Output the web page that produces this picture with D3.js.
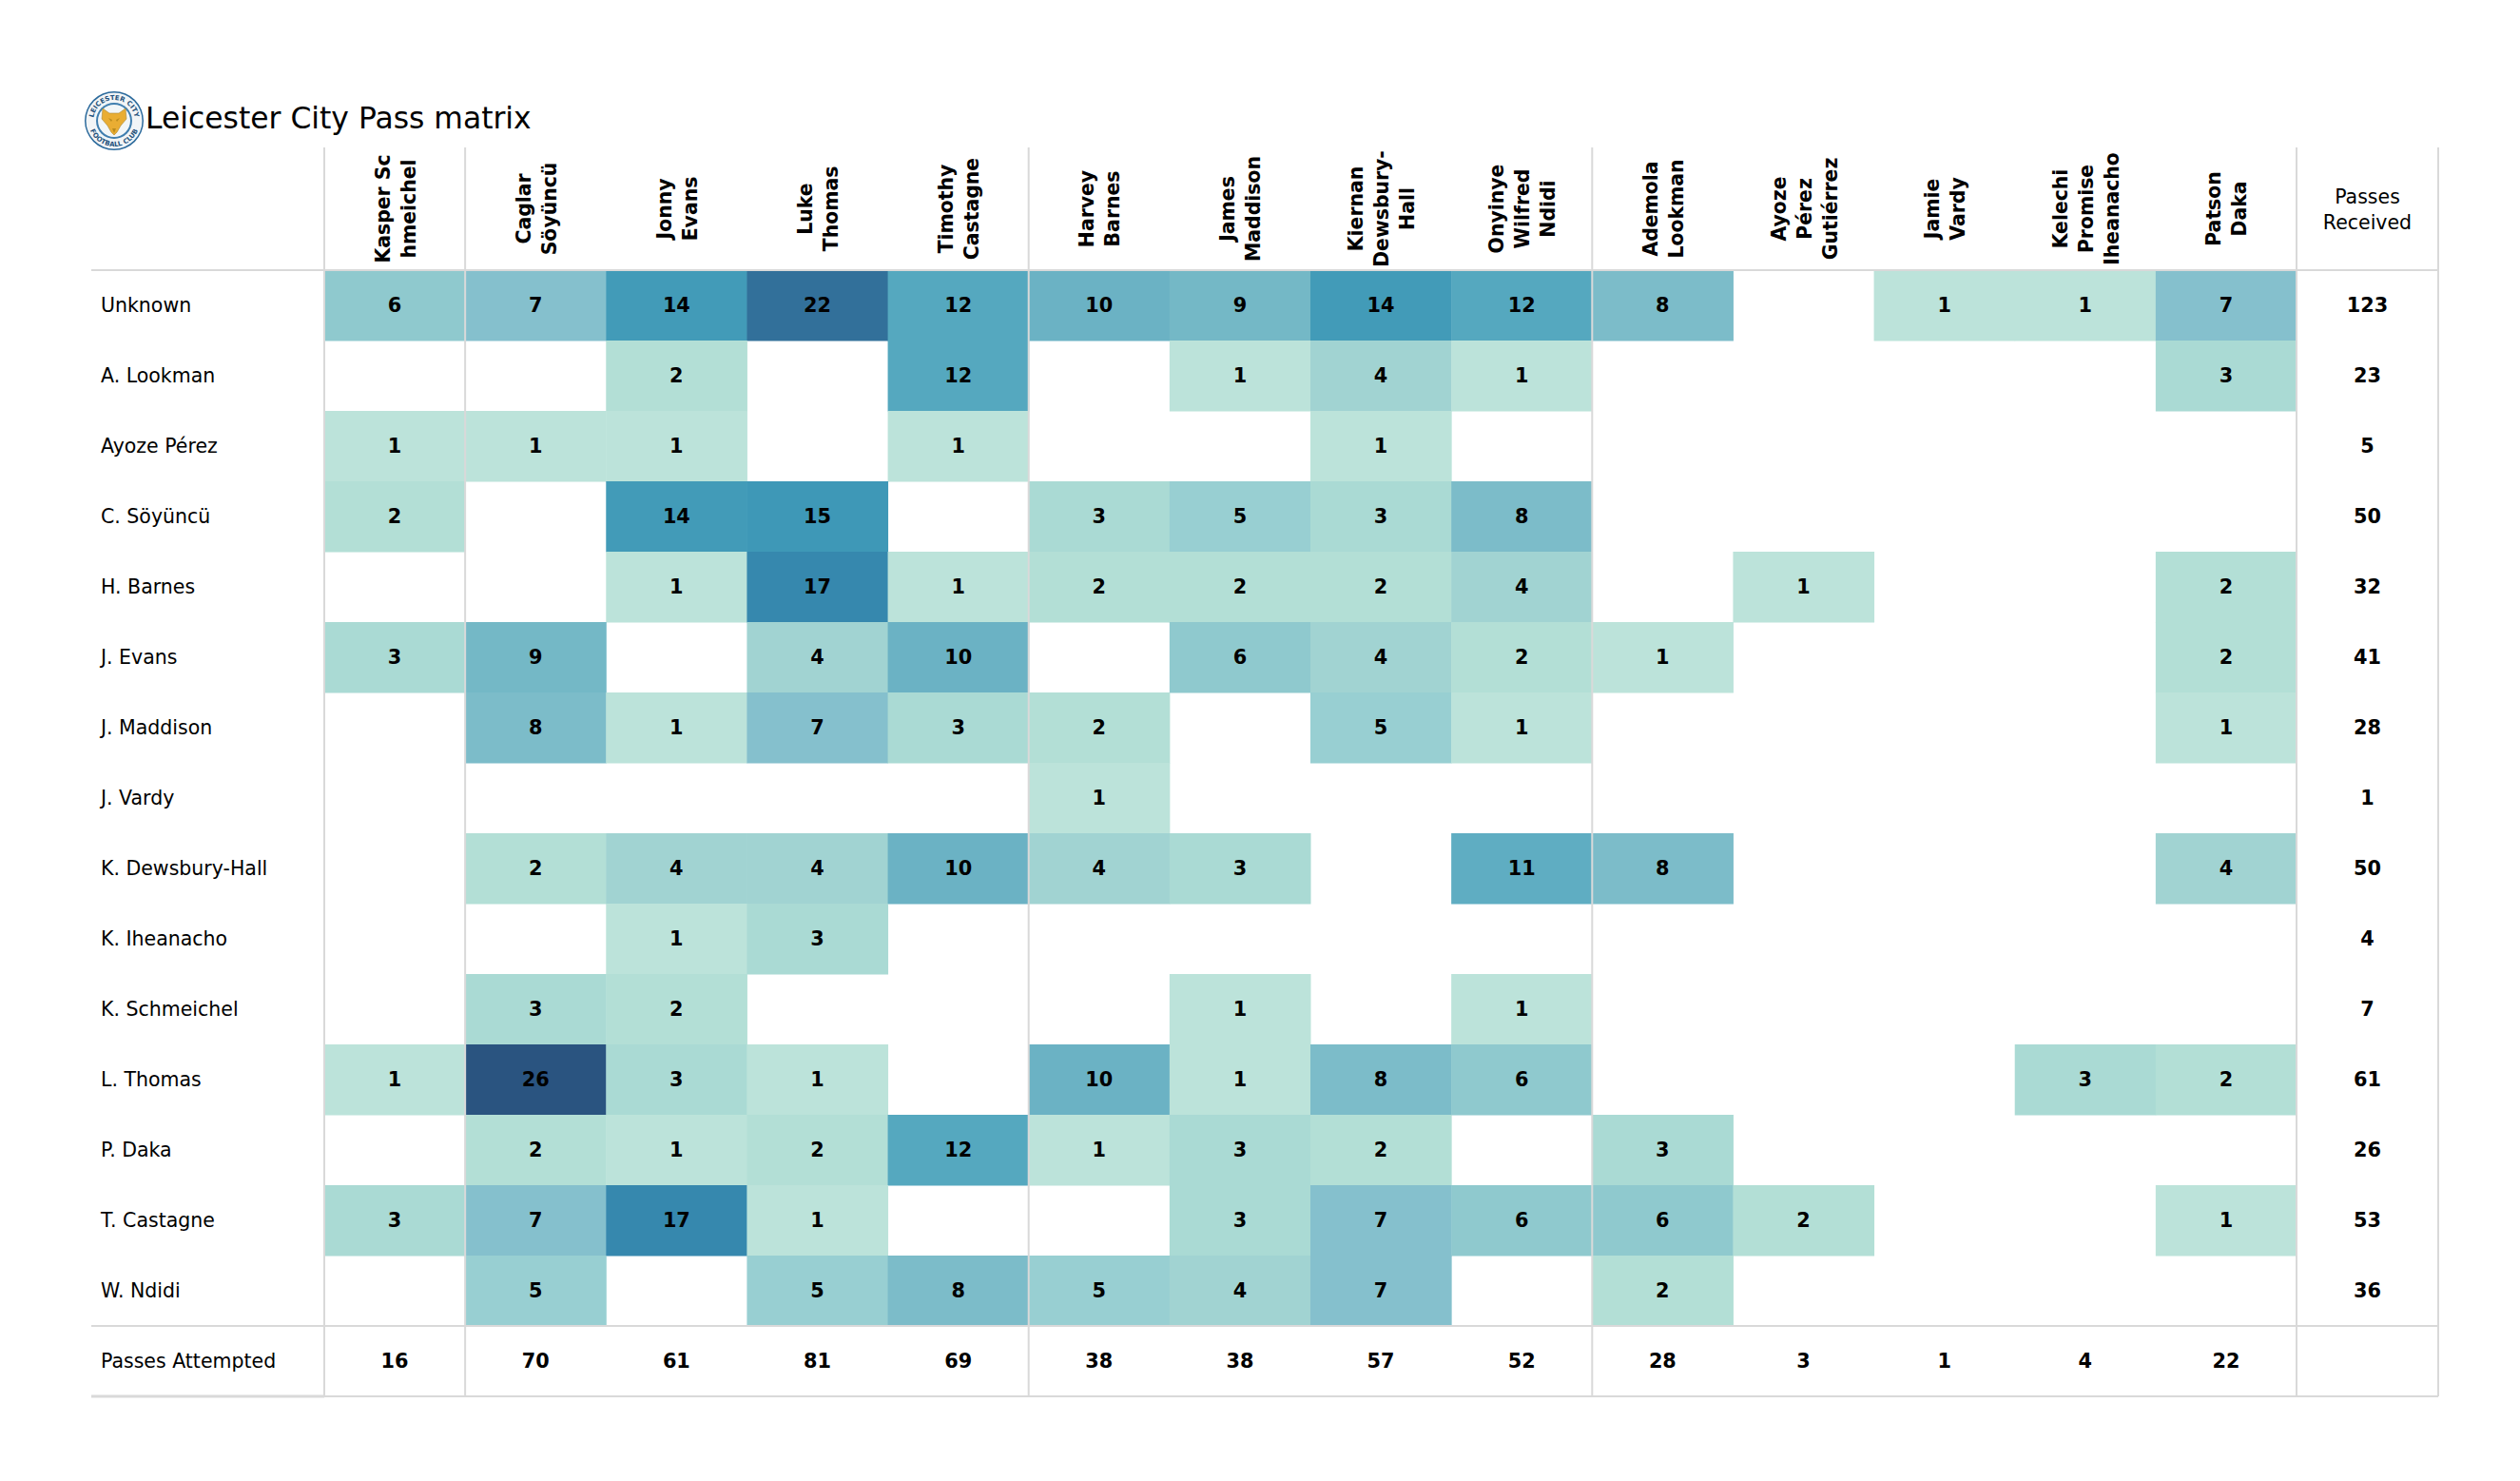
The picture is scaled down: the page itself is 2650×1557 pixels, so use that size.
<!DOCTYPE html>
<html><head><meta charset="utf-8">
<script src="https://cdn.jsdelivr.net/npm/d3@7"></script>
<style>html,body{margin:0;padding:0;background:#fff}svg{display:block}text{font-family:"DejaVu Sans",sans-serif;fill:#000}</style>
</head><body>
<svg id="c" width="2650" height="1557"></svg>
<script>
const title = "Leicester City Pass matrix";
const columns = ["Kasper Sc\nhmeichel","Caglar\nSöyüncü","Jonny\nEvans","Luke\nThomas","Timothy\nCastagne","Harvey\nBarnes","James\nMaddison","Kiernan\nDewsbury-\nHall","Onyinye\nWilfred\nNdidi","Ademola\nLookman","Ayoze\nPérez\nGutiérrez","Jamie\nVardy","Kelechi\nPromise\nIheanacho","Patson\nDaka"];
const rows = ["Unknown","A. Lookman","Ayoze Pérez","C. Söyüncü","H. Barnes","J. Evans","J. Maddison","J. Vardy","K. Dewsbury-Hall","K. Iheanacho","K. Schmeichel","L. Thomas","P. Daka","T. Castagne","W. Ndidi"];
const matrix = [
[6,7,14,22,12,10,9,14,12,8,0,1,1,7],
[0,0,2,0,12,0,1,4,1,0,0,0,0,3],
[1,1,1,0,1,0,0,1,0,0,0,0,0,0],
[2,0,14,15,0,3,5,3,8,0,0,0,0,0],
[0,0,1,17,1,2,2,2,4,0,1,0,0,2],
[3,9,0,4,10,0,6,4,2,1,0,0,0,2],
[0,8,1,7,3,2,0,5,1,0,0,0,0,1],
[0,0,0,0,0,1,0,0,0,0,0,0,0,0],
[0,2,4,4,10,4,3,0,11,8,0,0,0,4],
[0,0,1,3,0,0,0,0,0,0,0,0,0,0],
[0,3,2,0,0,0,1,0,1,0,0,0,0,0],
[1,26,3,1,0,10,1,8,6,0,0,0,3,2],
[0,2,1,2,12,1,3,2,0,3,0,0,0,0],
[3,7,17,1,0,0,3,7,6,6,2,0,0,1],
[0,5,0,5,8,5,4,7,0,2,0,0,0,0]];
const received = [123,23,5,50,32,41,28,1,50,4,7,61,26,53,36];
const attempted = [16,70,61,81,69,38,38,57,52,28,3,1,4,22];
const colorStops = [1,2,3,4,5,6,7,8,9,10,11,12,14,15,17,22,26];
const colorValues = ["#bce3da","#b3dfd6","#aadad4","#a1d3d2","#98cfd2","#8fc9ce","#85c0cd","#7cbcc9","#74b8c6","#6bb2c4","#5fadc2","#55a8bf","#429bb8","#3e98b7","#3688ae","#32709a","#2a5480"];

const svg = d3.select("#c");
const color = d3.scaleLinear().domain(colorStops).range(colorValues);
const x = d3.scaleBand().domain(d3.range(columns.length)).range([341,2415]);
const y = d3.scaleBand().domain(d3.range(rows.length)).range([284,1394]);
const rh = y.bandwidth(), cw = x.bandwidth();
const gridColor = "#d9d9d9";
const baseShift = 7.3;

// cells
const cells = matrix.flatMap((r,i)=>r.map((v,j)=>({i,j,v}))).filter(d=>d.v>0);
svg.append("g").selectAll("rect").data(cells).join("rect")
  .attr("x",d=>x(d.j)).attr("y",d=>y(d.i)).attr("width",cw+0.5).attr("height",rh+0.5)
  .attr("fill",d=>color(d.v));

// rules
const hTop = 155, hAtt = y.range()[1], hBot = hAtt + rh;
const right = 2564, left = 96;
const g = svg.append("g").attr("stroke",gridColor).attr("fill","none");
[[left,right,y.range()[0]],[left,right,hAtt],[left,right,hBot]].forEach(([a,b,yy])=>{
  g.append("line").attr("x1",a).attr("x2",b).attr("y1",yy).attr("y2",yy).attr("stroke-width",2);
});
g.append("line").attr("x1",left).attr("x2",341).attr("y1",hBot).attr("y2",hBot).attr("stroke-width",3);
[0,1,5,9,14].map(k=>k<14?x(k):x.range()[1]).concat([right]).forEach(xx=>{
  g.append("line").attr("x1",xx).attr("x2",xx).attr("y1",hTop).attr("y2",hBot).attr("stroke-width",2);
});

// cell values
svg.append("g").selectAll("text").data(cells).join("text")
  .attr("x",d=>x(d.j)+cw/2).attr("y",d=>y(d.i)+rh/2+baseShift)
  .attr("text-anchor","middle").attr("font-size",20.8).attr("font-weight","bold").text(d=>d.v);

// row labels
svg.append("g").selectAll("text").data(rows).join("text")
  .attr("x",106).attr("y",(d,i)=>y(i)+rh/2+baseShift).attr("font-size",20.5).text(d=>d);
svg.append("text").attr("x",106).attr("y",hAtt+rh/2+baseShift).attr("font-size",20.5).text("Passes Attempted");

// column headers
const headCy = (hTop+y.range()[0])/2;
const lineGap = 27;
columns.forEach((c,j)=>{
  const lines = c.split("\n");
  const cx = x(j)+cw/2;
  const t = svg.append("text").attr("text-anchor","middle").attr("font-size",20.4).attr("font-weight","bold")
    .attr("transform",`translate(${cx+1},${headCy}) rotate(-90)`);
  lines.forEach((l,k)=>{
    t.append("tspan").attr("x",0).attr("y",(k-(lines.length-1)/2)*lineGap+7).text(l);
  });
});

// right totals
const rxc = (2415+right)/2;
svg.append("g").selectAll("text").data(received).join("text")
  .attr("x",rxc).attr("y",(d,i)=>y(i)+rh/2+baseShift).attr("text-anchor","middle").attr("font-size",20.8).attr("font-weight","bold").text(d=>d);
svg.append("text").attr("x",rxc).attr("y",214).attr("text-anchor","middle").attr("font-size",20.5).text("Passes");
svg.append("text").attr("x",rxc).attr("y",241).attr("text-anchor","middle").attr("font-size",20.5).text("Received");

// bottom totals
svg.append("g").selectAll("text").data(attempted).join("text")
  .attr("x",(d,j)=>x(j)+cw/2).attr("y",hAtt+rh/2+baseShift).attr("text-anchor","middle").attr("font-size",20.8).attr("font-weight","bold").text(d=>d);

// title
svg.append("text").attr("x",153).attr("y",135).attr("font-size",31.4).text(title);

// crest
const crest = svg.append("g").attr("transform","translate(120,127)");
crest.append("circle").attr("r",31).attr("fill","#2b6a9c");
crest.append("circle").attr("r",29.5).attr("fill","#f2f5f7");
crest.append("circle").attr("r",19).attr("fill","#3f7eaf");
crest.append("circle").attr("r",17).attr("fill","#f2f6f8");
const defs = svg.append("defs");
defs.append("path").attr("id","ringT").attr("d","M-22,0 A22,22 0 0 1 22,0");
defs.append("path").attr("id","ringB").attr("d","M-27,0 A27,27 0 0 0 27,0");
crest.append("text").attr("font-size",7).attr("font-weight","bold").style("fill","#24527c").attr("text-anchor","middle")
  .append("textPath").attr("href","#ringT").attr("startOffset","50%").text("LEICESTER CITY");
crest.append("text").attr("font-size",7).attr("font-weight","bold").style("fill","#24527c").attr("text-anchor","middle")
  .append("textPath").attr("href","#ringB").attr("startOffset","50%").text("FOOTBALL CLUB");
crest.append("path").attr("fill","#e9ad33").attr("stroke","#a98a3a").attr("stroke-width",0.6)
  .attr("d","M-12,-13 L-5,-8 L5,-8 L12,-13 L13,-2 L7,5 L3,12 L0,15 L-3,12 L-7,5 L-13,-2 Z");
crest.append("path").attr("fill","#b98a1e").attr("d","M-6,-3 L-2,-1 L-3,1 Z M6,-3 L2,-1 L3,1 Z M-2,8 L2,8 L0,13 Z");
</script>
</body></html>
